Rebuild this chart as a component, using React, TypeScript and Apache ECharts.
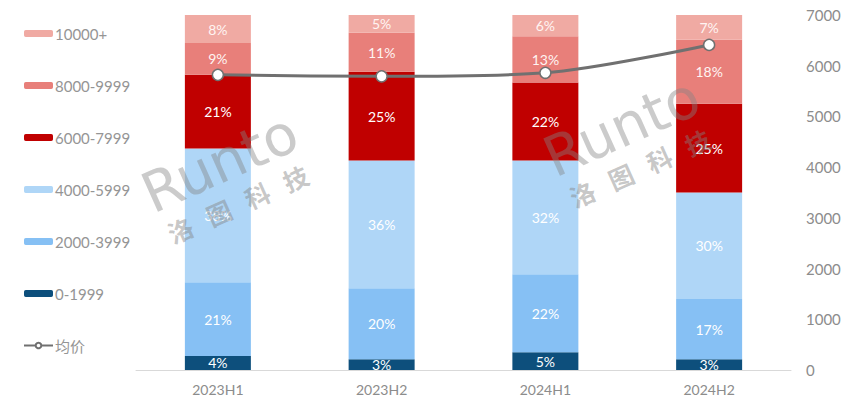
import React, { useEffect, useRef } from "react";
import * as echarts from "echarts";

const categories = ["2023H1", "2023H2", "2024H1", "2024H2"];
const seg0_1999 = [4, 3, 5, 3];
const seg2000_3999 = [21, 20, 22, 17];
const seg4000_5999 = [38, 36, 32, 30];
const seg6000_7999 = [21, 25, 22, 25];
const seg8000_9999 = [9, 11, 13, 18];
const seg10000 = [8, 5, 6, 7];
const avgPrice = [5820, 5790, 5860, 6410];
const rightTicks = { min: 0, max: 7000, interval: 1000 };

const segNames = ["0-1999", "2000-3999", "4000-5999", "6000-7999", "8000-9999", "10000+"];
const segData = [seg0_1999, seg2000_3999, seg4000_5999, seg6000_7999, seg8000_9999, seg10000];
const segColors = ["#0d4f7c", "#86c0f4", "#afd6f7", "#c00000", "#e87f7a", "#f0aaa3"];

function watermark(x: number, y: number) {
  return {
    type: "group",
    x,
    y,
    rotation: 0.42,
    silent: true,
    z: 100,
    children: [
      { type: "text", x: -78, y: -32, z: 100, style: { text: "Runto", fontSize: 56, fontFamily: "'DejaVu Sans', sans-serif", fill: "rgba(130,130,130,0.42)" } },
      { type: "text", x: -72, y: 28, z: 100, style: { text: "洛   图   科   技", fontSize: 25, fontWeight: "bold", fontFamily: "'Noto Sans CJK SC', sans-serif", fill: "rgba(130,130,130,0.45)" } },
    ],
  };
}

export default function App() {
  const ref = useRef<HTMLDivElement>(null);
  useEffect(() => {
    document.body.style.margin = "0";
    if (!ref.current) return;
    const chart = echarts.init(ref.current, null, { renderer: "svg" });
    const totals = categories.map((_, i) => segData.reduce((s, arr) => s + arr[i], 0));
    const barSeries = segData.map((arr, si) => ({
      name: segNames[si],
      type: "bar",
      stack: "share",
      yAxisIndex: 0,
      barWidth: 66,
      itemStyle: { color: segColors[si] },
      data: arr.map((v, i) => (v / totals[i]) * 100),
      label: {
        show: true,
        position: "inside",
        color: si === 5 || si === 4 ? "#fff4f2" : "#ffffff",
        fontSize: 14,
        fontFamily: "Lato, 'Noto Sans', sans-serif",
        formatter: (p: any) => `${arr[p.dataIndex]}%`,
      },
    }));
    chart.setOption({
      animation: false,
      textStyle: { fontFamily: "Lato, 'Noto Sans', 'Noto Sans CJK SC', sans-serif" },
      grid: { left: 136, right: 61, top: 15, bottom: 35 },
      legend: {
        orient: "vertical",
        left: 18,
        top: 21,
        itemWidth: 29,
        itemHeight: 7,
        itemGap: 37,
        data: ["10000+", "8000-9999", "6000-7999", "4000-5999", "2000-3999", "0-1999", "均价"],
        textStyle: { color: "#959595", fontSize: 15, padding: [0, 0, 0, -3] },
      },
      xAxis: {
        type: "category",
        data: categories,
        axisTick: { show: false },
        axisLine: { lineStyle: { color: "#d9d9d9" } },
        axisLabel: { color: "#8c8c8c", fontSize: 14, margin: 12 },
      },
      yAxis: [
        { type: "value", min: 0, max: 100, show: false, splitLine: { show: false } },
        {
          type: "value",
          position: "right",
          min: rightTicks.min,
          max: rightTicks.max,
          interval: rightTicks.interval,
          splitLine: { show: false },
          axisLine: { show: false },
          axisTick: { show: false },
          axisLabel: { color: "#8c8c8c", fontSize: 15, margin: 15, formatter: (v: number) => String(v) },
        },
      ],
      graphic: [watermark(218, 168), watermark(620, 132)],
      series: [
        ...barSeries,
        {
          name: "均价",
          type: "line",
          yAxisIndex: 1,
          data: avgPrice,
          smooth: 0.3,
          symbol: "circle",
          symbolSize: 11,
          z: 5,
          lineStyle: { color: "#707070", width: 3 },
          itemStyle: { color: "#ffffff", borderColor: "#707070", borderWidth: 1.5 },
        },
      ],
    });
    return () => chart.dispose();
  }, []);
  return <div ref={ref} style={{ width: 852, height: 405 }} />;
}
